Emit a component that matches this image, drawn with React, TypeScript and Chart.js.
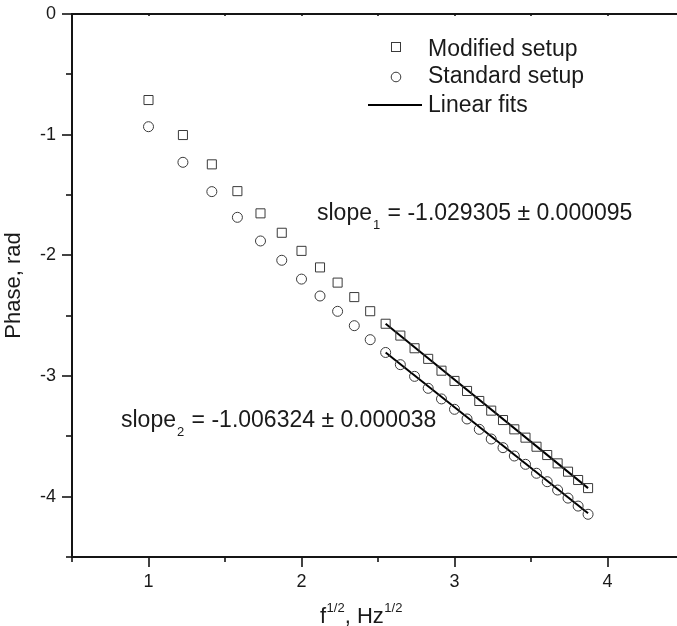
import React, { useEffect, useRef } from 'react';
import { Chart, registerables } from 'chart.js';

Chart.register(...registerables);

// sqrt(f) values, Hz^1/2
const xValues = [1, 1.225, 1.414, 1.581, 1.732, 1.871, 2, 2.121, 2.236, 2.345, 2.449, 2.55, 2.646, 2.739, 2.828, 2.915, 3, 3.082, 3.162, 3.24, 3.317, 3.391, 3.464, 3.536, 3.606, 3.674, 3.742, 3.808, 3.873];
const modifiedY = [-0.713, -1.003, -1.246, -1.468, -1.652, -1.813, -1.963, -2.1, -2.226, -2.346, -2.463, -2.567, -2.665, -2.77, -2.858, -2.956, -3.041, -3.124, -3.207, -3.287, -3.365, -3.442, -3.511, -3.586, -3.655, -3.724, -3.793, -3.862, -3.929];
const standardY = [-0.934, -1.229, -1.472, -1.685, -1.881, -2.041, -2.197, -2.337, -2.464, -2.583, -2.699, -2.805, -2.906, -3.003, -3.102, -3.19, -3.276, -3.356, -3.442, -3.522, -3.594, -3.663, -3.732, -3.806, -3.876, -3.945, -4.012, -4.078, -4.146];

const fitX = [2.55, 3.873];
const fitModifiedY = [-2.567, -3.929];
const fitStandardY = [-2.805, -4.138];

const xMajorTicks = [1, 2, 3, 4];
const yMajorTicks = [0, -1, -2, -3, -4];
const legendLabels = ['Modified setup', 'Standard setup', 'Linear fits'];
const slope1Text = { main: 'slope', sub: '1', rest: ' = -1.029305 \u00b1 0.000095' };
const slope2Text = { main: 'slope', sub: '2', rest: ' = -1.006324 \u00b1 0.000038' };
const xTitle = { base: 'f', sup: '1/2', base2: ', Hz', sup2: '1/2' };
const yTitle = 'Phase, rad';

const FONT = "'Liberation Sans', Arial, Helvetica, sans-serif";
const AXIS = '#151515';
const TEXT = '#1a1a1a';
const MARK = '#3a3a3a';

const toPoints = (xs: number[], ys: number[]) => xs.map((x, i) => ({ x, y: ys[i] }));

function drawSlope(ctx: CanvasRenderingContext2D, t: { main: string; sub: string; rest: string }, x: number, y: number) {
  ctx.font = `23px ${FONT}`;
  ctx.fillText(t.main, x, y);
  const w1 = ctx.measureText(t.main).width;
  ctx.font = `13px ${FONT}`;
  ctx.fillText(t.sub, x + w1 + 1, y + 9);
  const w2 = ctx.measureText(t.sub).width;
  ctx.font = `23px ${FONT}`;
  ctx.fillText(t.rest, x + w1 + w2 + 2, y);
}

const decorPlugin = {
  id: 'decor',
  afterDraw(chart: any) {
    const { ctx, chartArea: ca, scales } = chart;
    const xs = scales.x;
    const ys = scales.y;
    ctx.save();
    ctx.strokeStyle = AXIS;
    ctx.lineCap = 'butt';
    // axis lines
    ctx.lineWidth = 2;
    ctx.beginPath();
    ctx.moveTo(ca.left, ca.top);
    ctx.lineTo(ca.right, ca.top);
    ctx.moveTo(ca.left, ca.top - 1);
    ctx.lineTo(ca.left, ca.bottom + 1);
    ctx.moveTo(ca.left - 1, ca.bottom);
    ctx.lineTo(ca.right, ca.bottom);
    ctx.stroke();
    // ticks
    ctx.lineWidth = 1.6;
    xs.ticks.forEach((t: any) => {
      const px = Math.round(xs.getPixelForValue(t.value));
      const len = xMajorTicks.includes(t.value) ? 10 : 5;
      ctx.beginPath();
      ctx.moveTo(px, ca.bottom);
      ctx.lineTo(px, ca.bottom + len);
      ctx.moveTo(px, ca.top);
      ctx.lineTo(px, ca.top + 2);
      ctx.stroke();
    });
    ys.ticks.forEach((t: any) => {
      const py = Math.round(ys.getPixelForValue(t.value));
      const len = yMajorTicks.includes(t.value) ? 10 : 6;
      ctx.beginPath();
      ctx.moveTo(ca.left, py);
      ctx.lineTo(ca.left - len, py);
      ctx.stroke();
    });

    ctx.fillStyle = TEXT;
    // y title
    ctx.save();
    ctx.translate(14, (ca.top + ca.bottom) / 2);
    ctx.rotate(-Math.PI / 2);
    ctx.font = `22px ${FONT}`;
    ctx.textAlign = 'center';
    ctx.textBaseline = 'middle';
    ctx.fillText(yTitle, 0, 0);
    ctx.restore();

    // x title
    ctx.textAlign = 'left';
    ctx.textBaseline = 'alphabetic';
    let tx = 320;
    const ty = 623;
    ctx.font = `22px ${FONT}`;
    ctx.fillText(xTitle.base, tx, ty);
    tx += ctx.measureText(xTitle.base).width + 0.5;
    ctx.font = `13px ${FONT}`;
    ctx.fillText(xTitle.sup, tx, ty - 11);
    tx += ctx.measureText(xTitle.sup).width;
    ctx.font = `22px ${FONT}`;
    ctx.fillText(xTitle.base2, tx, ty);
    tx += ctx.measureText(xTitle.base2).width + 0.5;
    ctx.font = `13px ${FONT}`;
    ctx.fillText(xTitle.sup2, tx, ty - 11);

    // legend
    ctx.strokeStyle = MARK;
    ctx.lineWidth = 1;
    ctx.strokeRect(391.5, 42.5, 9, 9);
    ctx.beginPath();
    ctx.arc(396, 77, 4.8, 0, Math.PI * 2);
    ctx.stroke();
    ctx.strokeStyle = '#000';
    ctx.lineWidth = 2;
    ctx.beginPath();
    ctx.moveTo(368, 105);
    ctx.lineTo(422, 105);
    ctx.stroke();
    ctx.font = `23px ${FONT}`;
    ctx.fillText(legendLabels[0], 428, 56);
    ctx.fillText(legendLabels[1], 428, 83);
    ctx.fillText(legendLabels[2], 428, 112);

    // slope annotations
    drawSlope(ctx, slope1Text, 317, 220);
    drawSlope(ctx, slope2Text, 121, 427);
    ctx.restore();
  },
};

export default function App() {
  const canvasRef = useRef<HTMLCanvasElement | null>(null);

  useEffect(() => {
    if (!canvasRef.current) return;
    Chart.defaults.font.family = FONT;
    Chart.defaults.color = TEXT;
    const chart = new Chart(canvasRef.current, {
      type: 'scatter',
      data: {
        datasets: [
          {
            label: legendLabels[0],
            data: toPoints(xValues, modifiedY),
            pointStyle: 'rect',
            pointRadius: 6.4,
            borderColor: MARK,
            backgroundColor: 'rgba(0,0,0,0)',
            borderWidth: 1,
            showLine: false,
          },
          {
            label: legendLabels[1],
            data: toPoints(xValues, standardY),
            pointStyle: 'circle',
            pointRadius: 5,
            borderColor: MARK,
            backgroundColor: 'rgba(0,0,0,0)',
            borderWidth: 1,
            showLine: false,
          },
          {
            label: 'fit1',
            data: toPoints(fitX, fitModifiedY),
            showLine: true,
            borderColor: '#000',
            borderWidth: 2,
            pointRadius: 0,
          },
          {
            label: 'fit2',
            data: toPoints(fitX, fitStandardY),
            showLine: true,
            borderColor: '#000',
            borderWidth: 2,
            pointRadius: 0,
          },
        ],
      },
      options: {
        responsive: false,
        animation: false,
        layout: { padding: { top: 14, right: 16, left: 0, bottom: 0 } },
        plugins: {
          legend: { display: false },
          tooltip: { enabled: false },
        },
        scales: {
          x: {
            type: 'linear',
            min: 0.5,
            max: 4.5,
            grid: { display: false, drawTicks: false },
            border: { display: false },
            ticks: {
              stepSize: 0.5,
              autoSkip: false,
              maxRotation: 0,
              padding: 14,
              font: { size: 18 },
              color: TEXT,
              callback: (v: any) => (xMajorTicks.includes(Number(v)) ? String(v) : ''),
            },
            afterFit: (s: any) => {
              s.height = 69;
              s.paddingLeft = 0;
              s.paddingRight = 0;
            },
          },
          y: {
            type: 'linear',
            min: -4.5,
            max: 0,
            grid: { display: false, drawTicks: false },
            border: { display: false },
            ticks: {
              stepSize: 0.5,
              autoSkip: false,
              padding: 16,
              font: { size: 18 },
              color: TEXT,
              callback: (v: any) => (yMajorTicks.includes(Number(v)) ? String(Number(v) === 0 ? 0 : v) : ''),
            },
            afterFit: (s: any) => {
              s.width = 72;
              s.paddingTop = 0;
              s.paddingBottom = 0;
            },
          },
        },
      },
      plugins: [decorPlugin],
    });
    return () => chart.destroy();
  }, []);

  return (
    <div style={{ position: 'absolute', left: 0, top: 0, width: 677, height: 626, overflow: 'hidden', background: '#fff' }}>
      <canvas ref={canvasRef} width={700} height={626} style={{ display: 'block' }} />
    </div>
  );
}
